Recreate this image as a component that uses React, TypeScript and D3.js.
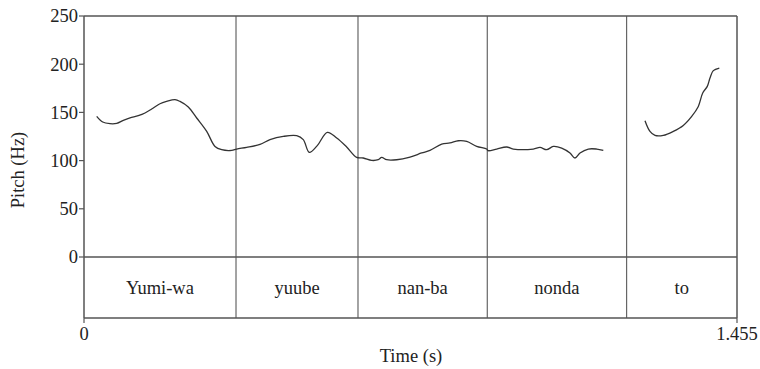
import React from "react";
import * as d3 from "d3";

const yTicks = [0, 50, 100, 150, 200, 250];
const xTickLabels = ["0", "1.455"];
const xTickValues = [0, 1.455];
const boundaries = [0.3387, 0.6105, 0.8986, 1.209];
const words = ["Yumi-wa", "yuube", "nan-ba", "nonda", "to"];

const seg1Time = [
  0.0283, 0.0417, 0.0579, 0.0729, 0.0876, 0.1025, 0.121, 0.1359, 0.1508, 0.1693,
  0.1843, 0.2028, 0.2139, 0.2324, 0.2511, 0.2734, 0.2919, 0.3068, 0.3291, 0.3402,
  0.3625, 0.3922, 0.4144, 0.4441, 0.4739, 0.4886, 0.502, 0.5198, 0.5421, 0.5631,
  0.5853, 0.6076, 0.6223, 0.641, 0.6557, 0.6633, 0.6745, 0.6967, 0.7264, 0.7524,
  0.7709, 0.797, 0.8155, 0.834, 0.8527, 0.875, 0.8973, 0.9004, 0.9196, 0.9418,
  0.9565, 1.0011, 1.016, 1.0309, 1.0457, 1.0644, 1.0829, 1.094, 1.1052, 1.1237,
  1.1424, 1.1571,
];
const seg1Hz = [
  145.9, 140, 138.3, 138.6, 141.7, 144.2, 146.6, 149.4, 153.5, 159,
  161.4, 163.2, 161.4, 155.6, 144.2, 130.3, 114.7, 111.3, 110.6, 112,
  113.7, 116.8, 121.7, 125.1, 125.8, 121.7, 108.5, 115.5, 129.3, 123.4,
  114.1, 103.3, 102.7, 100.2, 100.9, 103.3, 100.9, 100.9, 103.7, 107.9,
  110.6, 117.2, 118.3, 120.6, 119.9, 114.7, 112, 110.3, 112, 114.1,
  112, 112, 113.7, 111.3, 114.7, 113, 107.9, 102.7, 107.9, 112,
  112, 110.6,
];
const seg2Time = [1.25, 1.2611, 1.2723, 1.2908, 1.3131, 1.3353, 1.3541, 1.3688, 1.3786, 1.3888, 1.3948, 1.4022, 1.4156];
const seg2Hz = [141.4, 130.3, 126.1, 126.1, 130.3, 136.5, 145.9, 156.2, 170.1, 177, 185.7, 193.3, 196];

export default function App() {
  const W = 760, H = 369;
  const left = 84, right = 737, top = 16, zeroY = 257, bottom = 318;
  const x = d3.scaleLinear().domain([0, 1.455]).range([left, right]);
  const y = d3.scaleLinear().domain([0, 250]).range([zeroY, top]);
  const line = d3
    .line<[number, number]>()
    .x((d) => x(d[0]))
    .y((d) => y(d[1]))
    .curve(d3.curveCatmullRom);
  const s1 = seg1Time.map((t, i) => [t, seg1Hz[i]] as [number, number]);
  const s2 = seg2Time.map((t, i) => [t, seg2Hz[i]] as [number, number]);
  const edges = [0, ...boundaries, 1.455];
  const font = "'Liberation Serif', 'Times New Roman', serif";
  const frame = "#555";
  const fs = 18.5;
  return (
    <svg width={W} height={H} style={{ position: "absolute", left: 0, top: 0, fontFamily: font }}>
      <rect x={0} y={0} width={W} height={H} fill="#fff" />
      {boundaries.map((b, i) => (
        <line key={i} x1={x(b)} x2={x(b)} y1={top} y2={bottom} stroke="#666" strokeWidth={1.2} />
      ))}
      <line x1={left} x2={right} y1={top} y2={top} stroke={frame} strokeWidth={1.5} />
      <line x1={left} x2={right} y1={zeroY} y2={zeroY} stroke={frame} strokeWidth={1.5} />
      <line x1={left} x2={right} y1={bottom} y2={bottom} stroke={frame} strokeWidth={1.5} />
      <line x1={left} x2={left} y1={top} y2={bottom} stroke={frame} strokeWidth={1.5} />
      <line x1={right} x2={right} y1={top} y2={bottom} stroke={frame} strokeWidth={1.5} />
      {yTicks.map((v) => (
        <g key={v}>
          <line x1={left - 5} x2={left} y1={y(v)} y2={y(v)} stroke={frame} strokeWidth={1.2} />
          <text x={left - 6} y={y(v)} dy="0.35em" textAnchor="end" fontSize={fs} fill="#222">
            {v}
          </text>
        </g>
      ))}
      {xTickValues.map((v, i) => (
        <g key={v}>
          <line x1={x(v)} x2={x(v)} y1={bottom} y2={bottom + 5} stroke={frame} strokeWidth={1.2} />
          <text x={x(v)} y={334} dy="0.35em" textAnchor="middle" fontSize={fs} fill="#222">
            {xTickLabels[i]}
          </text>
        </g>
      ))}
      {words.map((w, i) => (
        <text
          key={w}
          x={(x(edges[i]) + x(edges[i + 1])) / 2}
          y={(zeroY + bottom) / 2}
          dy="0.35em"
          textAnchor="middle"
          fontSize={fs}
          fill="#222"
        >
          {w}
        </text>
      ))}
      <path d={line(s1) || ""} fill="none" stroke="#333" strokeWidth={1.3} />
      <path d={line(s2) || ""} fill="none" stroke="#333" strokeWidth={1.3} />
      <text x={411} y={356} dy="0.35em" textAnchor="middle" fontSize={fs} fill="#222">
        Time (s)
      </text>
      <text
        transform={`translate(18,170) rotate(-90)`}
        dy="0.35em"
        textAnchor="middle"
        fontSize={fs}
        fill="#222"
      >
        Pitch (Hz)
      </text>
    </svg>
  );
}
